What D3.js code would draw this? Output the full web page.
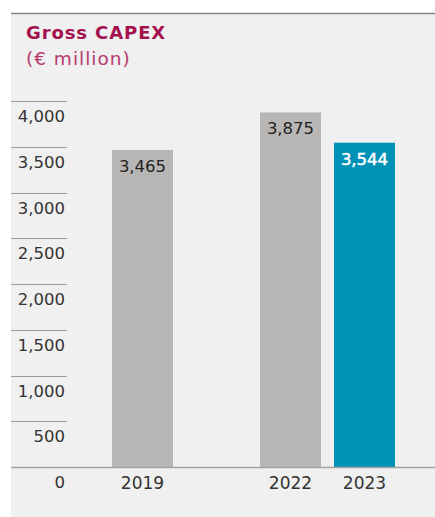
<!DOCTYPE html>
<html>
<head>
<meta charset="utf-8">
<script src="https://cdn.jsdelivr.net/npm/d3@7"></script>
<style>
    html, body { margin: 0; padding: 0; background: #fff; }
    svg { display: block; }
    text { font-family: 'DejaVu Sans', sans-serif; }
</style>
</head>
<body>
<svg id="chart" width="435" height="517"></svg>
<script>
'use strict';

// chart data
var years = ['2019', '2022', '2023'],
    capex = [3465, 3875, 3544],
    highlight = ['2023'];

// slots on the x axis (empty slot keeps the gap between 2019 and 2022)
var slots = ['2019', 'gap', '2022', '2023'];

var yTicks = [0, 500, 1000, 1500, 2000, 2500, 3000, 3500, 4000];

var svg = d3.select('#chart');

var panel = { left: 11, top: 13, right: 435, bottom: 517 },
    base = 467;

var x = d3.scaleBand()
    .domain(slots)
    .range([112, 395])
    .paddingInner(13 / 74)
    .paddingOuter(0);

var y = d3.scaleLinear()
    .domain([0, 4000])
    .range([base, 101]);

var fmt = d3.format(',');

function isHighlight(yr) { return highlight.indexOf(yr) !== -1; }

// background panel
svg.append('rect')
    .attr('x', panel.left)
    .attr('y', panel.top)
    .attr('width', panel.right - panel.left)
    .attr('height', panel.bottom - panel.top)
    .attr('fill', '#f0f0f0');

svg.append('line')
    .attr('x1', panel.left).attr('x2', panel.right)
    .attr('y1', panel.top + 0.5).attr('y2', panel.top + 0.5)
    .attr('stroke', '#858585')
    .attr('stroke-width', 1.5);

// title
svg.append('text')
    .attr('x', 26)
    .attr('y', 39)
    .attr('fill', '#a4124d')
    .attr('font-size', 18)
    .attr('font-weight', 'bold')
    .attr('letter-spacing', 0.9)
    .text('Gross CAPEX');

svg.append('text')
    .attr('x', 26)
    .attr('y', 64.5)
    .attr('fill', '#b8396f')
    .attr('font-size', 18.5)
    .attr('letter-spacing', 1)
    .text('(€ million)');

// y grid stubs and labels (labels sit under their line)
var gy = svg.append('g').attr('class', 'y-axis');

gy.selectAll('line.grid')
    .data(yTicks.filter(function(d) { return d > 0; }))
    .enter().append('line')
        .attr('class', 'grid')
        .attr('x1', panel.left).attr('x2', 67)
        .attr('y1', function(d) { return Math.round(y(d)) + 0.5; })
        .attr('y2', function(d) { return Math.round(y(d)) + 0.5; })
        .attr('stroke', '#9a9a9a')
        .attr('stroke-width', 1);

gy.selectAll('text')
    .data(yTicks)
    .enter().append('text')
        .attr('x', 65)
        .attr('y', function(d) { return y(d) + 21; })
        .attr('text-anchor', 'end')
        .attr('font-size', 16.5)
        .attr('fill', '#333')
        .text(function(d) { return fmt(d); });

// bars
var bars = svg.append('g').attr('class', 'bars')
    .selectAll('g')
    .data(years.map(function(yr, i) { return { year: yr, value: capex[i] }; }))
    .enter().append('g');

bars.append('rect')
    .attr('x', function(d) { return x(d.year); })
    .attr('y', function(d) { return y(d.value); })
    .attr('width', x.bandwidth())
    .attr('height', function(d) { return base - y(d.value); })
    .attr('fill', function(d) { return isHighlight(d.year) ? '#0091b6' : '#b7b6b4'; });

bars.append('text')
    .attr('x', function(d) { return x(d.year) + x.bandwidth() / 2; })
    .attr('y', function(d) { return y(d.value) + 22; })
    .attr('text-anchor', 'middle')
    .attr('font-size', 16.5)
    .attr('fill', function(d) { return isHighlight(d.year) ? '#fff' : '#222'; })
    .attr('stroke', function(d) { return isHighlight(d.year) ? '#fff' : 'none'; })
    .attr('stroke-width', 0.5)
    .text(function(d) { return fmt(d.value); });

// baseline
svg.append('line')
    .attr('x1', panel.left).attr('x2', panel.right)
    .attr('y1', base + 0.5).attr('y2', base + 0.5)
    .attr('stroke', '#a3a3a3')
    .attr('stroke-width', 1.5);

// x labels
svg.append('g').attr('class', 'x-axis')
    .selectAll('text')
    .data(years)
    .enter().append('text')
        .attr('x', function(d) { return x(d) + x.bandwidth() / 2; })
        .attr('y', 489)
        .attr('text-anchor', 'middle')
        .attr('font-size', 17)
        .attr('fill', '#333')
        .text(function(d) { return d; });
</script>
</body>
</html>
